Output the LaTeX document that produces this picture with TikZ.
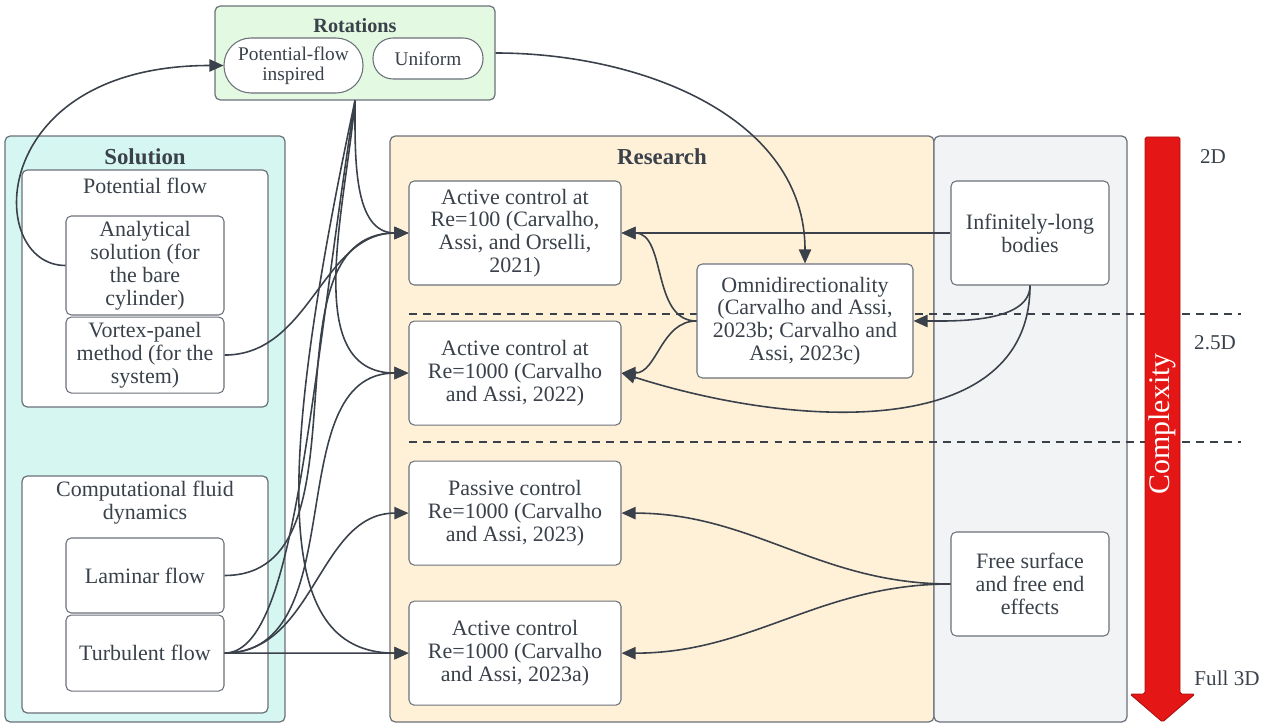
\documentclass[tikz,border=0pt]{standalone}
\usepackage{fontspec}
\setmainfont{Liberation Serif}
\usepackage{tikz}
\usetikzlibrary{arrows.meta,calc,positioning}
\definecolor{ink}{HTML}{3A414A}
\definecolor{rim}{HTML}{6B717A}
\definecolor{rotbg}{HTML}{E3F9E1}
\definecolor{solbg}{HTML}{D6F7F1}
\definecolor{resbg}{HTML}{FFF1D8}
\definecolor{dimbg}{HTML}{F2F3F5}
\definecolor{cred}{HTML}{E51616}
\tikzset{
  grp/.style={draw=rim,line width=0.7pt,rounded corners=3pt,inner sep=0pt},
  box/.style={draw=rim,line width=0.6pt,rounded corners=3pt,fill=white,inner sep=2pt,align=center,text=ink,font=\fontsize{12.5}{13}\selectfont},
  pill/.style={draw=rim,line width=0.6pt,fill=white,inner sep=2pt,align=center,text=ink,font=\fontsize{11}{11.5}\selectfont},
  ttl/.style={font=\fontsize{13}{14}\selectfont\bfseries,text=ink,inner sep=0pt},
  lbl/.style={font=\fontsize{12}{13}\selectfont,text=ink,inner sep=0pt,align=center},
  fl/.style={-{Triangle[length=8pt,width=7pt]},line width=0.9pt,draw=ink},
  ln/.style={line width=0.9pt,draw=ink},
  dv/.style={draw=ink,line width=0.6pt,dash pattern=on 4.5pt off 3.5pt}}

\begin{document}
\begin{tikzpicture}[
  rbox/.style={box,minimum width=4.24cm,minimum height=2.08cm},
  sbox/.style={box,minimum width=3.16cm,minimum height=2.08cm},
  lbox/.style={box,minimum width=3.16cm}]
\useasboundingbox (0,0) rectangle (25.34,-14.5);

% groups
\node[grp,fill=solbg,minimum width=5.6cm,minimum height=11.72cm] (sol) at (2.90,-8.58) {};
\node[grp,fill=resbg,minimum width=10.88cm,minimum height=11.72cm] (res) at (13.24,-8.58) {};
\node[grp,fill=dimbg,minimum width=3.86cm,minimum height=11.72cm] (dim) at (20.61,-8.58) {};
\node[grp,fill=rotbg,minimum width=5.6cm,minimum height=1.88cm] (rot) at (7.10,-1.06) {};
\node[grp,fill=white,minimum width=4.92cm,minimum height=4.74cm] (pot) at (2.90,-5.77) {};
\node[grp,fill=white,minimum width=4.92cm,minimum height=4.74cm] (cfd) at (2.90,-11.89) {};

\node[ttl] (solt) at (2.90,-3.14) {Solution};
\node[ttl] (rest) at (13.24,-3.14) {Research};
\node[ttl,font=\fontsize{11.5}{12}\selectfont\bfseries] (rott) at (7.10,-0.52) {Rotations};
\node[lbl,font=\fontsize{12.5}{13}\selectfont] (pott) at (2.90,-3.72) {Potential flow};
\node[lbl,font=\fontsize{12.5}{13}\selectfont] (cfdt) at (2.90,-10.05) {Computational fluid\\dynamics};

% 2D / 2.5D / 3D bands
\coordinate (d1a) at (8.18,-6.28);
\coordinate (d1b) at (24.82,-6.28);
\coordinate (d2a) at (8.18,-8.84);
\coordinate (d2b) at (24.82,-8.84);
\draw[dv] (d1a) -- (d1b);
\draw[dv] (d2a) -- (d2b);

\fill[cred,draw=cred!75!black,line width=0.5pt,rounded corners=1pt]
  (22.90,-2.74) -- (23.60,-2.74) -- (23.60,-13.88) -- (23.90,-13.88)
  -- (23.25,-14.44) -- (22.60,-13.88) -- (22.90,-13.88) -- cycle;
\node[rotate=90,text=white,font=\fontsize{17}{18}\selectfont,inner sep=0pt] (cx) at (23.25,-8.48) {Complexity};

\node[lbl] (l2) at (24.26,-3.14) {2D};
\node[lbl] (l25) at (24.30,-6.86) {2.5D};
\node[lbl] (l3) at (24.54,-13.56) {Full 3D};

% nodes
\node[pill,minimum width=2.78cm,minimum height=1.10cm,rounded corners=0.54cm] (pf) at (5.87,-1.31) {Potential-flow\\inspired};
\node[pill,minimum width=2.20cm,minimum height=0.82cm,rounded corners=0.40cm] (uni) at (8.56,-1.17) {Uniform};

\node[lbox,minimum height=1.98cm] (ana) at (2.90,-5.31) {Analytical\\solution (for\\the bare\\cylinder)};
\node[lbox,minimum height=1.52cm,below=0.02cm of ana] (vpm) {Vortex-panel\\method (for the\\system)};
\node[lbox,minimum height=1.50cm] (lam) at (2.90,-11.51) {Laminar flow};
\node[lbox,minimum height=1.52cm,below=0.02cm of lam] (turb) {Turbulent flow};

\node[rbox] (r100) at (10.30,-4.66) {Active control at\\Re=100 (Carvalho,\\Assi, and Orselli,\\2021)};
\node[rbox,below=0.7cm of r100] (r1000) {Active control at\\Re=1000 (Carvalho\\and Assi, 2022)};
\node[rbox,below=0.7cm of r1000] (pas) {Passive control\\Re=1000 (Carvalho\\and Assi, 2023)};
\node[rbox,below=0.7cm of pas] (act) {Active control\\Re=1000 (Carvalho\\and Assi, 2023a)};
\node[box,minimum width=4.32cm,minimum height=2.28cm] (omni) at (16.10,-6.42) {Omnidirectionality\\(Carvalho and Assi,\\2023b; Carvalho and\\Assi, 2023c)};

\node[sbox] (inf) at (20.60,-4.66) {Infinitely-long\\bodies};
\node[sbox] (free) at (20.60,-11.68) {Free surface\\and free end\\effects};

% connectors
\draw[fl] (ana.west) .. controls (-0.3,-5.31) and (-0.3,-1.31) .. (pf.west);
\draw[fl] (rot.east) to[out=0,in=90] (omni.north);
\draw[fl] (rot.south) to[out=-90,in=180] (r100.west);
\draw[fl] (rot.south) to[out=-95,in=180] (r1000.west);
\draw[fl] (rot.south) .. controls (5.4,-10.0) and (5.6,-13.06) .. (act.west);
\draw[ln] (turb.east) .. controls (5.9,-13.06) and (6.17,-8.0) .. (rot.south);
\draw[fl] (vpm.east) to[out=0,in=180] (r100.west);
\draw[fl] (lam.east) to[out=0,in=180] (r100.west);
\draw[fl] (turb.east) to[out=0,in=180] (r1000.west);
\draw[fl] (turb.east) to[out=0,in=180] (pas.west);
\draw[fl] (turb.east) -- (act.west);
\draw[fl] (inf.west) -- (r100.east);
\draw[fl] (inf.south) to[out=-90,in=0,looseness=0.8] (omni.east);
\draw[fl] (inf.south) .. controls (20.6,-8.8) and (16,-8.6) .. (r1000.east);
\draw[fl] (omni.west) to[out=180,in=0] (r100.east);
\draw[fl] (omni.west) to[out=180,in=0] (r1000.east);
\draw[fl] (free.west) to[out=180,in=0] (pas.east);
\draw[fl] (free.west) to[out=180,in=0] (act.east);
\end{tikzpicture}
\end{document}
